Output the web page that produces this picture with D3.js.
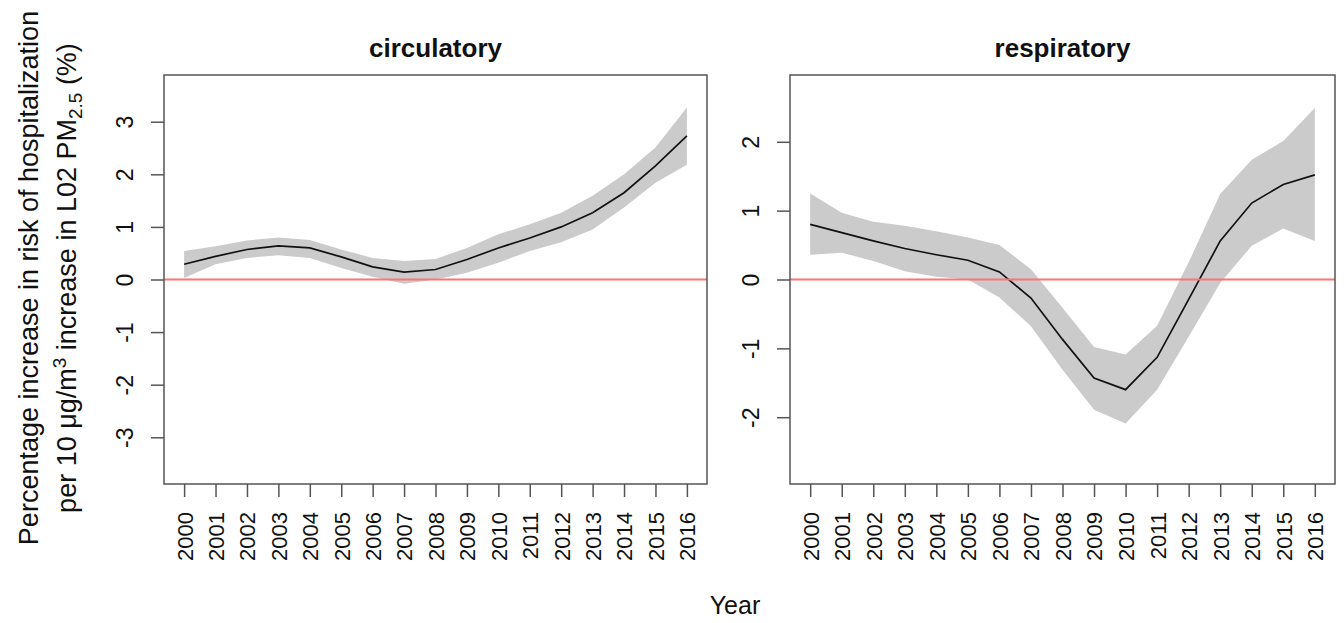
<!DOCTYPE html>
<html>
<head>
<meta charset="utf-8">
<script src="https://cdn.jsdelivr.net/npm/d3@7/dist/d3.min.js"></script>
<style>
body { margin: 0; background: #fff; }
text { font-family: "Liberation Sans", Arial, Helvetica, sans-serif; fill: #111; }
</style>
</head>
<body>
<div class="mainContainer"></div>
<script>
// years on the x axis
var years = [2000, 2001, 2002, 2003, 2004, 2005, 2006, 2007, 2008, 2009, 2010, 2011, 2012, 2013, 2014, 2015, 2016];

// circulatory: estimate and 95% band (%)
var circEst  = [0.29, 0.44, 0.57, 0.64, 0.60, 0.43, 0.24, 0.14, 0.19, 0.38, 0.60, 0.79, 1.00, 1.27, 1.65, 2.16, 2.73];
var circHigh = [0.54, 0.63, 0.74, 0.80, 0.75, 0.57, 0.41, 0.35, 0.39, 0.60, 0.86, 1.05, 1.27, 1.59, 2.00, 2.51, 3.27];
var circLow  = [0.03, 0.29, 0.41, 0.46, 0.41, 0.22, 0.05, -0.08, 0.00, 0.13, 0.32, 0.54, 0.71, 0.95, 1.37, 1.84, 2.18];

// respiratory: estimate and 95% band (%)
var respEst  = [0.80, 0.68, 0.56, 0.45, 0.36, 0.28, 0.11, -0.27, -0.87, -1.43, -1.60, -1.13, -0.29, 0.56, 1.11, 1.38, 1.52];
var respHigh = [1.25, 0.97, 0.84, 0.78, 0.70, 0.61, 0.50, 0.15, -0.41, -0.98, -1.09, -0.67, 0.25, 1.24, 1.74, 2.01, 2.49];
var respLow  = [0.36, 0.39, 0.27, 0.12, 0.04, 0.00, -0.26, -0.68, -1.31, -1.89, -2.09, -1.60, -0.83, -0.05, 0.49, 0.74, 0.56];

var circTicks = [-3, -2, -1, 0, 1, 2, 3];
var respTicks = [-2, -1, 0, 1, 2];

var svg = d3.select('.mainContainer').append('svg').attr('width', 1344).attr('height', 623);

var plotTop = 75, plotBottom = 484, tickLen = 13;

function drawPanel(left, right, ylim, ticks, est, low, high, title) {
	// R style 4% padding around the limits
	var xpad = (years[years.length - 1] - years[0]) * 0.04;
	var x = d3.scaleLinear().domain([years[0] - xpad, years[years.length - 1] + xpad]).range([left, right]);
	var ypad = (ylim[1] - ylim[0]) * 0.04;
	var y = d3.scaleLinear().domain([ylim[0] - ypad, ylim[1] + ypad]).range([plotBottom, plotTop]);

	var rows = years.map(function(yr, i) { return { year: yr, est: est[i], low: low[i], high: high[i] }; });

	var g = svg.append('g');

	var area = d3.area().x(function(d) { return x(d.year); }).y0(function(d) { return y(d.low); }).y1(function(d) { return y(d.high); });
	g.append('path').datum(rows).attr('d', area).style('fill', '#cbcbcb');

	var line = d3.line().x(function(d) { return x(d.year); }).y(function(d) { return y(d.est); });
	g.append('path').datum(rows).attr('d', line).style('fill', 'none').style('stroke', '#111').style('stroke-width', 1.7);

	// zero reference line
	g.append('line').attr('x1', left).attr('x2', right).attr('y1', y(0)).attr('y2', y(0))
		.style('stroke', '#ff7373').style('stroke-width', 2);

	g.append('rect').attr('x', left).attr('y', plotTop).attr('width', right - left).attr('height', plotBottom - plotTop)
		.style('fill', 'none').style('stroke', '#555').style('stroke-width', 1.5);

	// plain hyphen for negatives, like the original
	var fmt = function(d) { return String(d); };

	var yAxis = g.append('g').attr('transform', 'translate(' + left + ',0)')
		.call(d3.axisLeft(y).tickValues(ticks).tickSize(tickLen).tickFormat(fmt));
	yAxis.select('.domain').remove();
	yAxis.selectAll('line').style('stroke', '#555').style('stroke-width', 1.5);
	yAxis.selectAll('text').attr('transform', 'rotate(-90)').attr('x', 0).attr('y', -31).attr('dy', 0)
		.attr('text-anchor', 'middle').style('font-size', '23px').style('fill', '#111');

	var xAxis = g.append('g').attr('transform', 'translate(0,' + plotBottom + ')')
		.call(d3.axisBottom(x).tickValues(years).tickSize(tickLen).tickFormat(fmt));
	xAxis.select('.domain').remove();
	xAxis.selectAll('line').style('stroke', '#555').style('stroke-width', 1.5);
	xAxis.selectAll('text').attr('transform', 'rotate(-90)').attr('x', -28).attr('y', 0).attr('dy', '0.36em')
		.attr('text-anchor', 'end').style('font-size', '22px').style('fill', '#111');

	svg.append('text').attr('x', (left + right) / 2).attr('y', 57).attr('text-anchor', 'middle')
		.style('font-size', '26px').style('font-weight', 'bold').text(title);
}

drawPanel(164, 707, [-3.6, 3.6], circTicks, circEst, circLow, circHigh, 'circulatory');
drawPanel(790, 1335, [-2.75, 2.75], respTicks, respEst, respLow, respHigh, 'respiratory');

svg.append('text').attr('x', 735).attr('y', 614).attr('text-anchor', 'middle').style('font-size', '25px').text('Year');

// y axis title, two lines
var ytitle = svg.append('g').attr('transform', 'translate(0,278) rotate(-90)');
ytitle.append('text').attr('x', 0).attr('y', 38).attr('text-anchor', 'middle').style('font-size', '27px')
	.text('Percentage increase in risk of hospitalization');
var l2 = ytitle.append('text').attr('x', 0).attr('y', 76).attr('text-anchor', 'middle').style('font-size', '27px');
l2.append('tspan').text('per 10 \u03bcg/m');
l2.append('tspan').attr('dy', -10).style('font-size', '19px').text('3');
l2.append('tspan').attr('dy', 10).text(' increase in L02 PM');
l2.append('tspan').attr('dy', 6).style('font-size', '19px').text('2.5');
l2.append('tspan').attr('dy', -6).text(' (%)');
</script>
</body>
</html>
